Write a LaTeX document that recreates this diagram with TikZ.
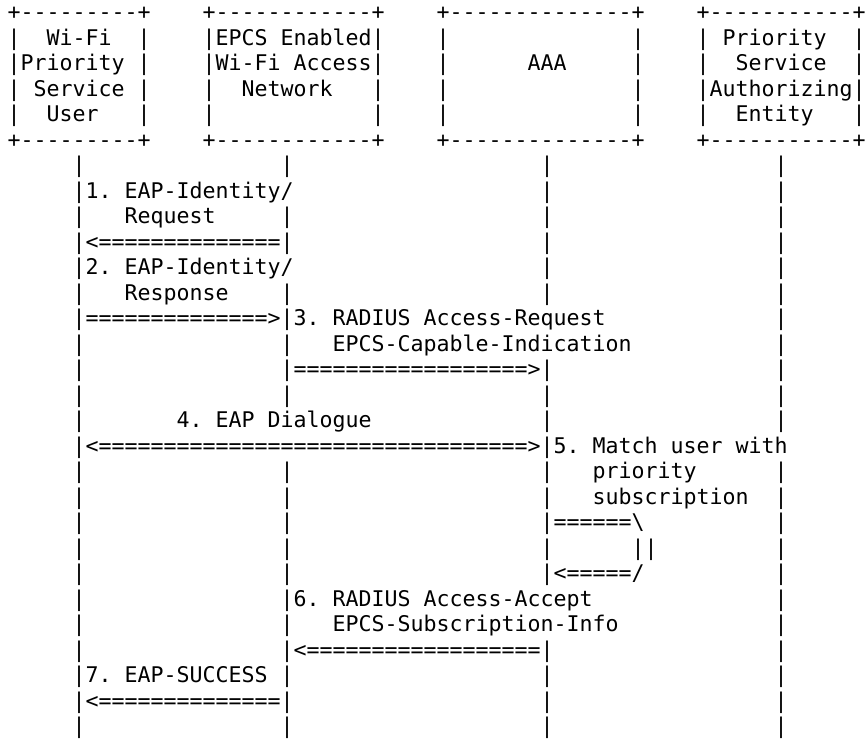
\documentclass[tikz,border=0pt]{standalone}
\usepackage{fontspec}
\setmonofont{DejaVu Sans Mono}
\frenchspacing

\tikzset{
  ascii/.style={anchor=base west, inner sep=0pt, outer sep=0pt,
    font=\ttfamily\fontsize{12.29}{14}\selectfont},
}

\begin{document}
\begin{tikzpicture}[x=0.26cm, y=-0.51cm]
  \useasboundingbox (-0.577,-0.765) rectangle (65.96,28.255);
  % boxes
  \foreach \r in {0,5} {
    \node[ascii] (user-\r) at (0,\r) {+---------+};
    \node[ascii] (wlan-\r) at (15,\r) {+------------+};
    \node[ascii] (aaa-\r) at (33,\r) {+--------------+};
    \node[ascii] (psae-\r) at (53,\r) {+-----------+};
  }
  \foreach \c in {0,10,15,28,33,48,53,65}
    \foreach \r in {1,...,4}
      \node[ascii] (side-\c-\r) at (\c,\r) {|};
  \node[ascii] (user1) at (3,1) {Wi-Fi};
  \node[ascii] (user2) at (1,2) {Priority};
  \node[ascii] (user3) at (2,3) {Service};
  \node[ascii] (user4) at (3,4) {User};
  \node[ascii] (wlan1) at (16,1) {EPCS Enabled};
  \node[ascii] (wlan2) at (16,2) {Wi-Fi Access};
  \node[ascii] (wlan3) at (18,3) {Network};
  \node[ascii] (aaa2) at (40,2) {AAA};
  \node[ascii] (psae1) at (55,1) {Priority};
  \node[ascii] (psae2) at (56,2) {Service};
  \node[ascii] (psae3) at (54,3) {Authorizing};
  \node[ascii] (psae4) at (56,4) {Entity};
  % lifelines
  \foreach \c/\a/\b in {5/6/28, 21/6/6, 21/8/9, 21/11/15, 21/18/28,
      41/6/11, 41/14/22, 41/25/28, 59/6/16, 59/18/28}
    \foreach \r in {\a,...,\b}
      \node[ascii] (bar-\c-\r) at (\c,\r) {|};
  % messages
  \node[ascii] (m1) at (6,7) {1. EAP-Identity/};
  \node[ascii] (m1b) at (9,8) {Request};
  \node[ascii] (a1) at (6,9) {<==============};
  \node[ascii] (m2) at (6,10) {2. EAP-Identity/};
  \node[ascii] (m2b) at (9,11) {Response};
  \node[ascii] (a2) at (6,12) {==============>};
  \node[ascii] (m3) at (22,12) {3. RADIUS Access-Request};
  \node[ascii] (m3b) at (25,13) {EPCS-Capable-Indication};
  \node[ascii] (a3) at (22,14) {==================>};
  \node[ascii] (m4) at (13,16) {4. EAP Dialogue};
  \node[ascii] (a4) at (6,17) {<=================================>};
  \node[ascii] (m5) at (42,17) {5. Match user with};
  \node[ascii] (m5b) at (45,18) {priority};
  \node[ascii] (m5c) at (45,19) {subscription};
  \node[ascii] (a5) at (42,20) {======\textbackslash};
  \node[ascii] (a5b) at (48,21) {||};
  \node[ascii] (a5c) at (42,22) {<=====/};
  \node[ascii] (m6) at (22,23) {6. RADIUS Access-Accept};
  \node[ascii] (m6b) at (25,24) {EPCS-Subscription-Info};
  \node[ascii] (a6) at (22,25) {<==================};
  \node[ascii] (m7) at (6,26) {7. EAP-SUCCESS};
  \node[ascii] (a7) at (6,27) {<==============};
\end{tikzpicture}
\end{document}
